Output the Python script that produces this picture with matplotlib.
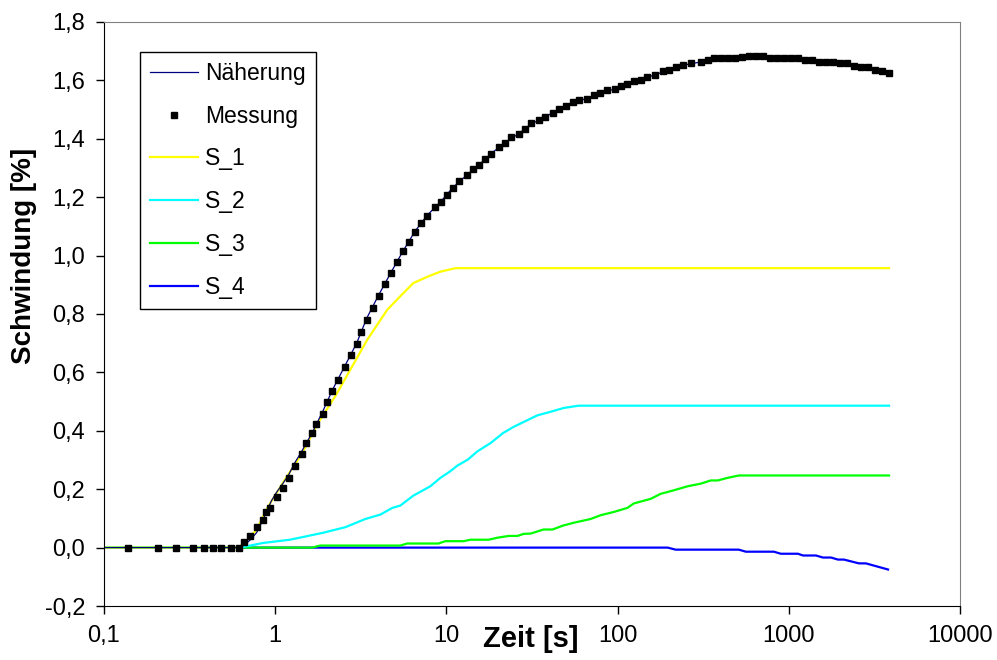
import matplotlib.pyplot as plt
from matplotlib.ticker import FixedLocator, FuncFormatter, NullLocator

plt.rcParams['font.family'] = ['Liberation Sans', 'DejaVu Sans']

# Messung (measured points)
mess_t = [0.139, 0.208, 0.264, 0.330, 0.386, 0.433, 0.482, 0.551, 0.612, 0.661,
          0.714, 0.778, 0.843, 0.885, 0.935, 1.02, 1.11, 1.20, 1.30, 1.43,
          1.52, 1.65, 1.74, 1.89, 2.01, 2.16, 2.34, 2.54, 2.76, 2.99,
          3.15, 3.42, 3.71, 4.02, 4.36, 4.72, 5.12, 5.57, 6.02, 6.53,
          7.10, 7.69, 8.55, 9.27, 10.1, 10.9, 11.9, 13.1, 14.3, 15.5,
          16.8, 18.2, 20.2, 21.9, 23.8, 26.5, 28.7, 31.1, 34.7, 37.6,
          41.9, 45.4, 49.7, 55.0, 59.4, 65.9, 72.7, 78.8, 86.8, 97.0,
          104, 114, 125, 136, 149, 165, 183, 200, 220, 241,
          267, 306, 336, 364, 400, 440, 483, 531, 583, 641,
          704, 774, 851, 935, 1028, 1130, 1241, 1364, 1497, 1645,
          1808, 1986, 2183, 2399, 2636, 2897, 3184, 3499, 3846]
mess_y = [0.0, 0.0, 0.0, 0.0, 0.0, 0.0, 0.0, 0.0, 0.0, 0.020,
          0.041, 0.069, 0.096, 0.122, 0.137, 0.172, 0.205, 0.238, 0.281, 0.322,
          0.357, 0.391, 0.425, 0.459, 0.500, 0.535, 0.575, 0.617, 0.658, 0.698,
          0.740, 0.781, 0.822, 0.863, 0.904, 0.939, 0.979, 1.015, 1.048, 1.082,
          1.110, 1.137, 1.165, 1.185, 1.206, 1.233, 1.254, 1.275, 1.295, 1.311,
          1.332, 1.349, 1.371, 1.386, 1.405, 1.418, 1.432, 1.453, 1.466, 1.474,
          1.488, 1.502, 1.511, 1.525, 1.532, 1.536, 1.550, 1.557, 1.566, 1.571,
          1.580, 1.588, 1.597, 1.603, 1.612, 1.619, 1.631, 1.637, 1.645, 1.652,
          1.660, 1.662, 1.671, 1.675, 1.678, 1.678, 1.678, 1.680, 1.684, 1.683,
          1.683, 1.677, 1.677, 1.677, 1.677, 1.675, 1.669, 1.669, 1.664, 1.664,
          1.664, 1.658, 1.658, 1.650, 1.647, 1.647, 1.635, 1.633, 1.624]

# Näherung (fit)
fit_t = [0.1, 0.61, 0.67, 0.72, 0.78, 0.84, 0.9, 0.95, 1.02, 1.11,
         1.2, 1.3, 1.43, 1.65, 1.89, 2.16, 2.54, 2.99, 3.42, 4.02,
         4.72, 5.57, 6.53, 7.69, 9.27, 10.9, 13.1, 15.5, 18.2, 21.9,
         26.5, 31.1, 37.6, 45.4, 55, 65.9, 78.8, 97, 114, 136,
         165, 200, 241, 299, 391, 483, 641, 851, 1130, 1497,
         1986, 2636, 3184, 3846]
fit_y = [0, 0, 0.012, 0.028, 0.052, 0.09, 0.13, 0.16, 0.19, 0.22,
         0.25, 0.29, 0.33, 0.395, 0.465, 0.54, 0.62, 0.70, 0.785, 0.865,
         0.94, 1.015, 1.082, 1.137, 1.185, 1.233, 1.275, 1.311, 1.349, 1.386,
         1.418, 1.45, 1.474, 1.502, 1.525, 1.538, 1.557, 1.571, 1.588, 1.603,
         1.619, 1.637, 1.652, 1.662, 1.678, 1.679, 1.683, 1.677, 1.675, 1.664,
         1.658, 1.647, 1.635, 1.618]

# S_1 .. S_4 components
s1_t = [0.1, 0.608, 0.668, 0.775, 0.910, 1.14, 1.44, 1.78, 2.24, 2.75,
        3.45, 4.52, 5.38, 6.41, 7.85, 9.23, 11.3, 3846]
s1_y = [0, 0, 0.018, 0.06, 0.141, 0.233, 0.324, 0.427, 0.518, 0.610,
        0.712, 0.815, 0.861, 0.906, 0.929, 0.945, 0.957, 0.957]

s2_t = [0.1, 0.624, 0.851, 1.22, 1.91, 2.57, 3.36, 4.11, 4.83, 5.38,
        6.41, 8.05, 9.23, 10.5, 11.6, 13.3, 15.2, 18.1, 21.5, 24.6,
        28.2, 34.0, 40.5, 48.3, 59.1, 3846]
s2_y = [0, 0, 0.016, 0.027, 0.051, 0.07, 0.098, 0.113, 0.136, 0.144,
        0.178, 0.21, 0.239, 0.261, 0.281, 0.301, 0.33, 0.358, 0.393, 0.413,
        0.43, 0.453, 0.465, 0.478, 0.486, 0.486]

s3_t = [0.1, 1.64, 1.83, 5.38, 5.89, 8.97, 9.86, 12.6, 13.8, 17.6,
        19.9, 23.1, 26.0, 28.2, 31.0, 36.9, 41.7, 47.7, 55.3, 69.5,
        79.6, 94.8, 114, 124, 156, 178, 212, 256, 306, 350,
        384, 440, 510, 3846]
s3_y = [0, 0, 0.007, 0.007, 0.014, 0.014, 0.022, 0.022, 0.027, 0.027,
        0.034, 0.040, 0.040, 0.047, 0.048, 0.062, 0.062, 0.075, 0.085, 0.098,
        0.111, 0.122, 0.136, 0.151, 0.167, 0.184, 0.196, 0.210, 0.219, 0.230,
        0.230, 0.239, 0.247, 0.247]

s4_t = [0.1, 196, 218, 510, 561, 817, 897, 1130, 1208, 1439,
        1581, 1762, 1935, 2098, 2566, 2817, 3794]
s4_y = [0, 0, -0.007, -0.007, -0.014, -0.014, -0.021, -0.021, -0.027, -0.027,
        -0.034, -0.034, -0.041, -0.041, -0.054, -0.054, -0.075]

x_ticks = [0.1, 1, 10, 100, 1000, 10000]
y_ticks = [-0.2, 0.0, 0.2, 0.4, 0.6, 0.8, 1.0, 1.2, 1.4, 1.6, 1.8]

fig = plt.figure(figsize=(9.97, 6.6), dpi=100)
ax = fig.add_axes([0.1043, 0.0818, 0.8587, 0.8849])

l4, = ax.plot(s4_t, s4_y, color='#0000FF', lw=1.6, label='S_4')
l3, = ax.plot(s3_t, s3_y, color='#00FF00', lw=1.6, label='S_3')
l2, = ax.plot(s2_t, s2_y, color='#00FFFF', lw=1.6, label='S_2')
l1, = ax.plot(s1_t, s1_y, color='#FFFF00', lw=1.6, label='S_1')
ln, = ax.plot(fit_t, fit_y, color='#000080', lw=0.9, label='Näherung')
lm, = ax.plot(mess_t, mess_y, ls='none', marker='s', ms=4.9, color='black', label='Messung')

ax.set_xscale('log')
ax.set_xlim(0.1, 10000)
ax.set_ylim(-0.2, 1.8)
ax.xaxis.set_major_locator(FixedLocator(x_ticks))
ax.xaxis.set_minor_locator(NullLocator())
ax.yaxis.set_major_locator(FixedLocator(y_ticks))
ax.xaxis.set_major_formatter(FuncFormatter(lambda v, p: ('%g' % v).replace('.', ',')))
ax.yaxis.set_major_formatter(FuncFormatter(lambda v, p: ('%.1f' % v).replace('.', ',')))
ax.tick_params(axis='both', direction='out', length=5.5, width=1, labelsize=17, pad=8)

for side in ['left', 'bottom']:
    ax.spines[side].set_color('black')
for side in ['top', 'right']:
    ax.spines[side].set_color('#808080')

ax.set_xlabel('Zeit [s]', fontsize=21, fontweight='bold')
ax.xaxis.set_label_coords(0.498, -0.056)
ax.xaxis.label.set_va('center')
ax.set_ylabel('Schwindung [%]', fontsize=20, fontweight='bold')
ax.yaxis.set_label_coords(-0.093, 0.599)
ax.yaxis.label.set_va('center')

leg = ax.legend(handles=[ln, lm, l1, l2, l3, l4], loc='upper left',
                bbox_to_anchor=(0.042, 0.949), borderaxespad=0, fontsize=16.5,
                frameon=True, fancybox=False, framealpha=1, edgecolor='black',
                handlelength=2.1, handletextpad=0.3, labelspacing=0.86,
                numpoints=1, borderpad=0.45)
leg.get_frame().set_linewidth(1.0)

fig.savefig('out.png', dpi=100)
